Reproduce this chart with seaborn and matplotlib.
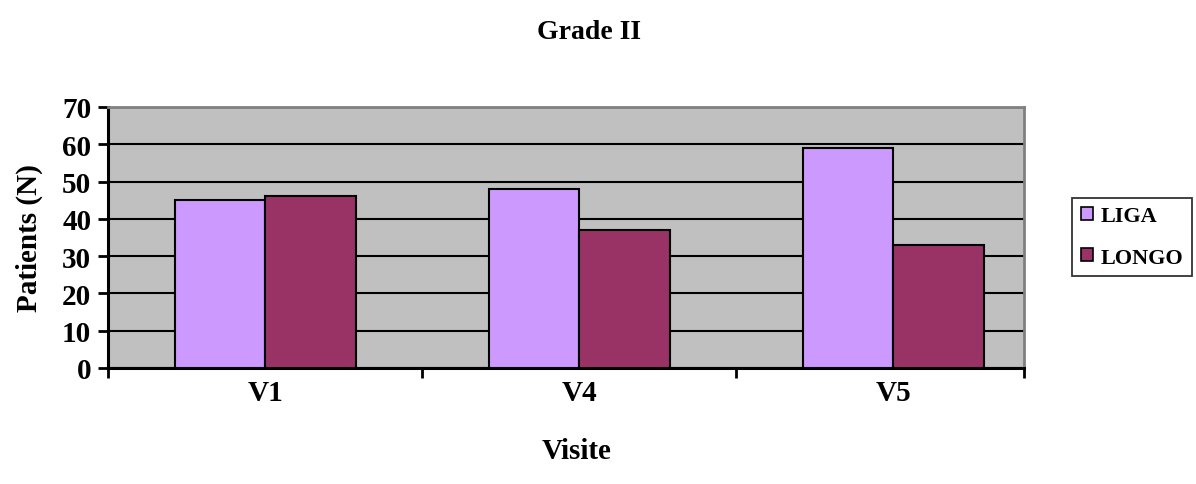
import matplotlib
matplotlib.use("Agg")
import matplotlib.pyplot as plt
from matplotlib.ticker import FixedLocator
import seaborn as sns
import pandas as pd

visits = ["V1", "V4", "V5"]
liga = [45, 48, 59]
longo = [46, 37, 33]
series_names = ["LIGA", "LONGO"]
y_ticks = [0, 10, 20, 30, 40, 50, 60, 70]

df = pd.DataFrame({
    "Visite": visits * 2,
    "Patients": liga + longo,
    "Groupe": [series_names[0]] * len(visits) + [series_names[1]] * len(visits),
})

sns.set_theme(style="white")
plt.rcParams["font.family"] = ["Liberation Serif", "DejaVu Serif"]
plt.rcParams["font.weight"] = "bold"
plt.rcParams["text.color"] = "black"
plt.rcParams["axes.labelcolor"] = "black"
plt.rcParams["xtick.color"] = "black"
plt.rcParams["ytick.color"] = "black"

fig = plt.figure(figsize=(11.96, 4.85), dpi=100)
ax = fig.add_axes([108 / 1196, 116 / 485, 916 / 1196, 261 / 485])
ax.set_facecolor("#C0C0C0")

sns.barplot(data=df, x="Visite", y="Patients", hue="Groupe",
            palette={"LIGA": "#CC99FF", "LONGO": "#993366"}, saturation=1,
            width=0.576, edgecolor="black", linewidth=1.5, ax=ax, zorder=3)

x_right = 2.416
ax.set_ylim(0, 70)
ax.set_xlim(-0.5, x_right)
ax.set_yticks(y_ticks)
ax.yaxis.grid(True, color="black", linewidth=1.5, zorder=0)
ax.set_axisbelow(True)

# category separators on the x axis
ax.xaxis.set_minor_locator(FixedLocator([-0.5, 0.5, 1.5, x_right]))
ax.tick_params(axis="x", which="major", bottom=True, length=0, pad=8, labelsize=21)
ax.tick_params(axis="x", which="minor", bottom=True, length=7, width=2,
               color="black", direction="out")
ax.tick_params(axis="y", which="major", left=True, length=7, width=2,
               color="black", direction="out", pad=5, labelsize=21)
for lab in ax.get_xticklabels() + ax.get_yticklabels():
    lab.set_fontweight("bold")

for side in ("left", "bottom"):
    ax.spines[side].set_color("black")
    ax.spines[side].set_linewidth(2.2)
for side in ("top", "right"):
    ax.spines[side].set_color("#808080")
    ax.spines[side].set_linewidth(2)

ax.set_xlabel("Visite", fontsize=21, fontweight="bold", labelpad=22, x=0.512)
ax.set_ylabel("Patients (N)", fontsize=21, fontweight="bold", labelpad=14)
fig.suptitle("Grade II", x=0.4925, y=0.958, fontsize=20, fontweight="bold")

leg = ax.legend(loc="center left", bbox_to_anchor=(1.052, 0.502), frameon=True,
                fancybox=False, edgecolor="black", fontsize=16,
                handlelength=0.55, handleheight=0.55, handletextpad=0.35,
                borderpad=0.4, labelspacing=0.95, borderaxespad=0)
leg.get_frame().set_linewidth(1.3)
for t in leg.get_texts():
    t.set_fontweight("bold")
for h in leg.legend_handles:
    h.set_edgecolor("black")
    h.set_linewidth(1.2)

fig.savefig("out.png", dpi=100, facecolor="white")
